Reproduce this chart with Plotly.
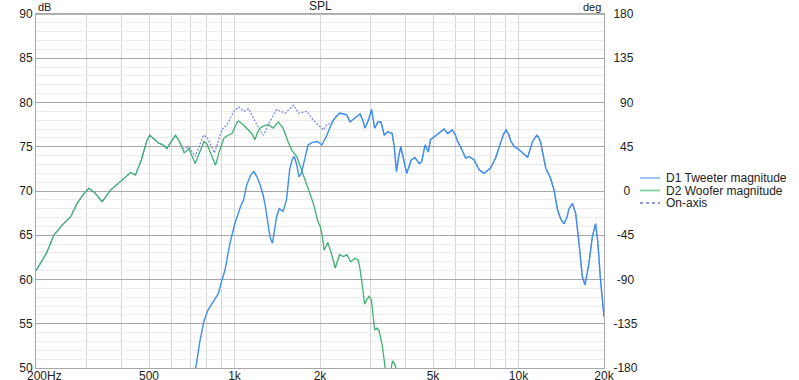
import math
import plotly.graph_objects as go

# ---------------- data ----------------
WOOFER_F = [200, 210, 218, 231, 248, 265, 279, 295, 307, 322, 342, 366, 395, 431, 448, 470, 490,
            503, 520, 541, 560, 578, 600, 620, 640, 665, 690, 708, 727, 750, 781, 800, 830, 857,
            885, 919, 950, 980, 1022, 1035, 1080, 1121, 1150, 1180, 1205, 1230, 1270, 1317, 1367,
            1425, 1483, 1543, 1592, 1657, 1700, 1745, 1800, 1843, 1890, 1920, 1960, 2004, 2040,
            2070, 2100, 2131, 2200, 2264, 2300, 2343, 2418, 2485, 2566, 2654, 2725, 2760, 2800,
            2840, 2873, 2930, 2976, 3034, 3080, 3115, 3170, 3224, 3260, 3311, 3390, 3450, 3530,
            3600, 3680, 3760, 3900, 4100]
WOOFER_DB = [61.0, 62.2, 63.0, 65.0, 66.2, 67.1, 68.6, 69.7, 70.3, 69.8, 68.8, 70.1, 71.0, 72.1,
             71.8, 73.5, 75.6, 76.3, 75.9, 75.4, 75.2, 74.8, 75.6, 76.3, 75.6, 74.3, 74.8, 74.0,
             73.1, 74.2, 75.6, 75.3, 74.0, 72.9, 74.5, 76.0, 76.3, 76.5, 77.8, 77.9, 77.4, 76.9,
             76.5, 75.8, 76.6, 77.1, 77.4, 77.5, 77.1, 77.8, 77.1, 75.6, 74.6, 73.9, 72.9, 71.8,
             70.8, 69.9, 68.7, 67.9, 66.7, 66.0, 64.8, 63.3, 63.7, 64.2, 62.8, 61.3, 62.0, 62.8,
             62.6, 62.8, 62.0, 62.4, 62.2, 61.4, 60.0, 58.4, 57.2, 57.8, 58.1, 57.7, 56.0, 54.3,
             54.5, 54.3, 53.6, 52.6, 50.1, 49.0, 49.3, 50.8, 50.3, 49.0, 47.5, 46.0]

TWEETER_F = [700, 730, 757, 782, 808, 842, 877, 901, 926, 964, 1000, 1049, 1076, 1105, 1140, 1170,
             1200, 1230, 1260, 1282, 1310, 1334, 1360, 1385, 1407, 1437, 1483, 1524, 1565, 1600,
             1624, 1655, 1686, 1720, 1768, 1815, 1880, 1960, 2030, 2115, 2170, 2230, 2290, 2350,
             2420, 2485, 2550, 2655, 2768, 2830, 2880, 2960, 3040, 3080, 3115, 3200, 3280, 3370,
             3460, 3590, 3650, 3720, 3780, 3850, 3920, 4040, 4120, 4190, 4320, 4470, 4560, 4690,
             4810, 4900, 5040, 5250, 5470, 5620, 5850, 6000, 6100, 6250, 6520, 6700, 6980, 7270,
             7560, 7970, 8300, 8640, 8850, 9040, 9230, 9410, 9670, 9930, 10340, 10770, 11210,
             11600, 11800, 11980, 12470, 12980, 13340, 13710, 14100, 14460, 14800, 15060, 15480,
             15890, 16330, 16780, 17140, 17700, 18190, 18680, 19040, 19400, 20000]
TWEETER_DB = [47.0, 50.0, 53.2, 55.4, 56.6, 57.5, 58.4, 59.8, 61.1, 64.1, 66.2, 68.2, 69.0, 70.7,
              71.8, 72.2, 71.6, 70.7, 69.6, 68.4, 66.2, 64.8, 64.1, 65.6, 67.1, 68.0, 67.7, 69.0,
              72.5, 73.6, 73.9, 73.0, 71.6, 72.0, 73.7, 75.2, 75.5, 75.6, 75.2, 76.3, 77.2, 78.0,
              78.5, 78.8, 78.7, 78.6, 77.8, 78.2, 78.7, 78.0, 77.1, 78.0, 79.2, 78.0, 77.1, 77.8,
              77.8, 76.3, 76.7, 76.5, 75.0, 72.2, 73.8, 75.0, 74.0, 72.0, 72.8, 73.5, 73.8, 73.1,
              73.3, 75.2, 74.4, 75.8, 76.1, 76.5, 77.0, 76.5, 76.9, 76.3, 75.6, 75.0, 73.7, 73.9,
              73.5, 72.4, 72.0, 72.6, 73.7, 75.4, 76.4, 76.9, 76.4, 75.6, 75.0, 74.8, 74.3, 73.8,
              75.6, 76.3, 76.0, 75.4, 72.6, 71.4, 70.1, 67.9, 66.8, 66.3, 67.0, 68.0, 68.6, 67.5,
              64.1, 60.3, 59.4, 61.8, 64.8, 66.3, 64.1, 60.3, 55.8]

# on-axis sum: where it departs from both drivers
ONAXIS_MID_F = [659, 690, 727, 777, 800, 851, 901, 941, 995, 1035, 1080, 1121, 1160, 1198, 1264,
                1330, 1407, 1508, 1613, 1679, 1797, 1896, 2056, 2115, 2170]
ONAXIS_MID_DB = [74.8, 75.0, 73.9, 76.3, 76.1, 74.3, 76.9, 77.5, 79.0, 79.5, 79.0, 79.3, 78.4,
                 77.5, 76.3, 77.8, 79.2, 78.8, 79.7, 78.8, 79.0, 78.0, 76.9, 77.5, 77.6]
# below / above these the on-axis trace lies on the woofer / tweeter curve
ONAXIS_WOOFER_UNTIL = 650
ONAXIS_TWEETER_FROM = 2200

X_TICKS = [200, 500, 1000, 2000, 5000, 10000, 20000]
X_TICKTEXT = ["\u00a0\u00a0\u00a0\u00a0\u00a0200Hz", "500", "1k", "2k", "5k", "10k", "20k"]
X_MINOR = [300, 400, 600, 700, 800, 900, 3000, 4000, 6000, 7000, 8000, 9000]
X_DECADES = [1000, 10000]
DEG_TICKS = [-180, -135, -90, -45, 0, 45, 90, 135, 180]
DEG_TEXT = ["-180", "-135", "\u00a0-90", "\u00a0-45", "\u00a0\u00a0\u00a00", "\u00a0\u00a045",
            "\u00a0\u00a090", "135", "180"]

NAMES = ["D1 Tweeter magnitude", "D2 Woofer magnitude", "On-axis"]
COLORS = ["#3d8ef0", "#3fb070", "#6f80e0"]
LEGEND_COLORS = ["#9cc6f4", "#8ed4a8", "#8a98e6"]

# ---------------- build ----------------
on_f, on_db = [], []
for f, d in zip(WOOFER_F, WOOFER_DB):
    if f < ONAXIS_WOOFER_UNTIL:
        on_f.append(f); on_db.append(d)
on_f += ONAXIS_MID_F; on_db += ONAXIS_MID_DB
for f, d in zip(TWEETER_F, TWEETER_DB):
    if f >= ONAXIS_TWEETER_FROM:
        on_f.append(f); on_db.append(d)

fig = go.Figure()
fig.add_trace(go.Scatter(x=on_f, y=on_db, mode="lines", name=NAMES[2],
                         line=dict(color=COLORS[2], width=1.3, dash="2px,1.5px"), opacity=0.9))
fig.add_trace(go.Scatter(x=WOOFER_F, y=WOOFER_DB, mode="lines", name=NAMES[1],
                         line=dict(color=COLORS[1], width=1.3)))
fig.add_trace(go.Scatter(x=TWEETER_F, y=TWEETER_DB, mode="lines", name=NAMES[0],
                         line=dict(color=COLORS[0], width=1.4)))
# phase axis carrier (no visible marks)
fig.add_trace(go.Scatter(x=[1000], y=[0], yaxis="y2", mode="markers", marker=dict(opacity=0),
                         showlegend=False, hoverinfo="skip"))

L, R, T, B = 36, 195, 14, 12
W, H = 799, 380
pw, ph = W - L - R, H - T - B

def px_x(px):
    return (px - L) / pw

def px_y(py):
    return (H - B - py) / ph

font = "Liberation Sans, Arial, sans-serif"
fig.update_layout(
    width=W, height=H, margin=dict(l=L, r=R, t=T, b=B, autoexpand=False),
    plot_bgcolor="white", paper_bgcolor="white", showlegend=False,
    font=dict(family=font, size=12, color="#222222"),
    xaxis=dict(type="log", range=[math.log10(200), math.log10(20000)], automargin=False,
               tickmode="array", tickvals=X_TICKS, ticktext=X_TICKTEXT,
               ticklabelstandoff=-3,
               showgrid=True, gridcolor="#d6d6d6", gridwidth=1,
               minor=dict(tickmode="array", tickvals=X_MINOR, showgrid=True,
                          gridcolor="#d6d6d6", gridwidth=1, ticks=""),
               showline=True, mirror=True, linecolor="#a8a8a8", linewidth=1,
               ticks="", zeroline=False, tickfont=dict(size=12, color="#222")),
    yaxis=dict(range=[50, 90], tick0=50, dtick=5, showgrid=True, gridcolor="#a8a8a8",
               automargin=False,
               gridwidth=1, minor=dict(dtick=1, showgrid=True, gridcolor="#ececec", ticks=""),
               showline=True, mirror=True, linecolor="#a8a8a8", linewidth=1,
               ticks="", zeroline=False, tickfont=dict(size=12, color="#222")),
    yaxis2=dict(overlaying="y", side="right", range=[-180, 180], tickmode="array",
                automargin=False,
                tickvals=DEG_TICKS, ticktext=DEG_TEXT, showgrid=False, zeroline=False,
                ticks="outside", ticklen=6, tickcolor="rgba(0,0,0,0)",
                tickfont=dict(size=12, color="#222"), showline=False),
)

shapes = []
for f in X_DECADES:
    shapes.append(dict(type="line", xref="x", yref="paper", x0=f, x1=f, y0=0, y1=1,
                       line=dict(color="#7a7a7a", width=1), layer="between"))
# top frame emphasis
shapes.append(dict(type="line", xref="paper", yref="paper", x0=0, x1=1, y0=1, y1=1,
                   line=dict(color="#b4b4b4", width=2), layer="between"))

anns = [
    dict(text="SPL", x=0.5, y=1, xref="paper", yref="paper", xanchor="center", yanchor="bottom",
         showarrow=False, font=dict(size=12, color="#222"), yshift=0, borderpad=0),
    dict(text="dB", x=0, y=1, xref="paper", yref="paper", xanchor="left", yanchor="bottom",
         showarrow=False, font=dict(size=11, color="#222"), xshift=1, yshift=0, borderpad=0),
    dict(text="deg", x=1, y=1, xref="paper", yref="paper", xanchor="right", yanchor="bottom",
         showarrow=False, font=dict(size=11, color="#222"), xshift=-2, yshift=0, borderpad=0),
]

leg_y = [178, 190.5, 203]
dashes = ["solid", "solid", "dot"]
for name, col, yy, dsh in zip(NAMES, LEGEND_COLORS, leg_y, dashes):
    shapes.append(dict(type="line", xref="paper", yref="paper", x0=px_x(640), x1=px_x(660),
                       y0=px_y(yy), y1=px_y(yy), line=dict(color=col, width=2, dash=dsh)))
    anns.append(dict(text=name, x=px_x(665), y=px_y(yy), xref="paper", yref="paper",
                     xanchor="left", yanchor="middle", showarrow=False, borderpad=0,
                     font=dict(size=12, color="#222")))

fig.update_layout(shapes=shapes, annotations=anns)
fig.write_html("out.html")
